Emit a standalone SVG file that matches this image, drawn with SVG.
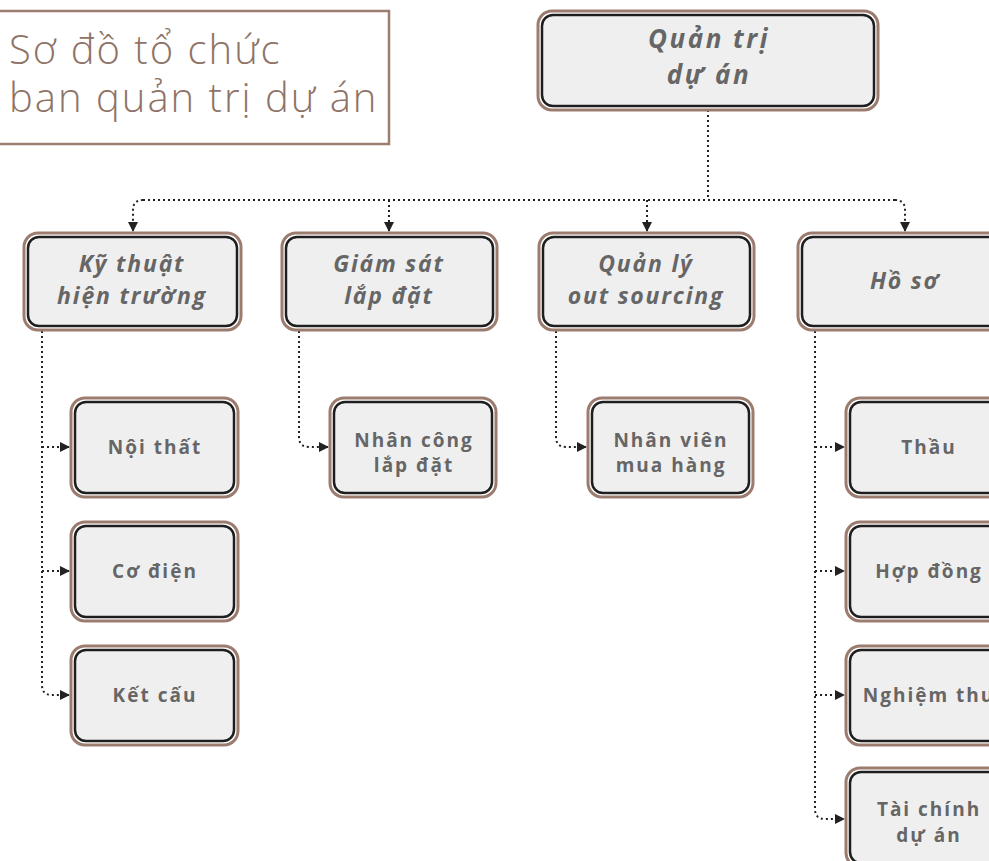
<svg xmlns="http://www.w3.org/2000/svg" width="989" height="861" viewBox="0 0 989 861">
<defs>
<marker id="arr" viewBox="0 0 10 10" refX="9" refY="5" markerWidth="10" markerHeight="10" markerUnits="userSpaceOnUse" orient="auto">
<path d="M0,0 L10,5 L0,10 z" fill="#222"/>
</marker>
</defs>
<style>
.outer{fill:#ffffff;stroke:#9b7c6f;stroke-width:3}
.inner{fill:#efefef;stroke:#1e1e1e;stroke-width:2.5}
.root{font-family:"Open Sans","Noto Sans",sans-serif;font-weight:700;font-style:italic;font-size:26px;fill:#666666;text-anchor:middle;letter-spacing:2.5px}
.big{font-family:"Open Sans","Noto Sans",sans-serif;font-weight:700;font-style:italic;font-size:23px;fill:#666666;text-anchor:middle;letter-spacing:1.8px}
.small{font-family:"Open Sans","Noto Sans",sans-serif;font-weight:700;font-size:19px;fill:#666666;text-anchor:middle;letter-spacing:2px}
.title{font-family:"Open Sans","Noto Sans",sans-serif;font-weight:300;font-size:40px;fill:#8e7366;letter-spacing:2px}
.conn{fill:none;stroke:#222;stroke-width:2;stroke-dasharray:2 3}
</style>
<rect width="989" height="861" fill="#ffffff"/>
<g id="title">
<rect x="-10" y="11" width="399" height="133" fill="none" stroke="#9b7c6f" stroke-width="2.5"/>
<text class="title" x="9" y="64">Sơ đồ tổ chức</text>
<text class="title" x="9" y="112">ban quản trị dự án</text>
</g>
<g id="connectors">
<path class="conn" d="M708,110 V200"/>
<path class="conn" d="M143,200 H895"/>
<path class="conn" d="M143,200 Q133,200 133,210 V231" marker-end="url(#arr)"/>
<path class="conn" d="M389,200 V231" marker-end="url(#arr)"/>
<path class="conn" d="M647,200 V231" marker-end="url(#arr)"/>
<path class="conn" d="M895,200 Q905,200 905,210 V231" marker-end="url(#arr)"/>
<path class="conn" d="M42,331 V685 Q42,695 52,695 H69" marker-end="url(#arr)"/>
<path class="conn" d="M42,447 H69" marker-end="url(#arr)"/>
<path class="conn" d="M42,571 H69" marker-end="url(#arr)"/>
<path class="conn" d="M299,331 V437 Q299,447 309,447 H328" marker-end="url(#arr)"/>
<path class="conn" d="M556,331 V437 Q556,447 566,447 H586" marker-end="url(#arr)"/>
<path class="conn" d="M815,331 V809 Q815,819 825,819 H844" marker-end="url(#arr)"/>
<path class="conn" d="M815,447 H844" marker-end="url(#arr)"/>
<path class="conn" d="M815,571 H844" marker-end="url(#arr)"/>
<path class="conn" d="M815,695 H844" marker-end="url(#arr)"/>
</g>
<g id="n-root">
<rect class="outer" x="538" y="11" width="340" height="99" rx="14"/>
<rect class="inner" x="542" y="15" width="332" height="91" rx="11"/>
<text class="root" x="709" y="48">Quản trị</text>
<text class="root" x="709" y="84">dự án</text>
</g>
<g id="n-kythuat">
<rect class="outer" x="24" y="233" width="217" height="97" rx="14"/>
<rect class="inner" x="28" y="237" width="209" height="89" rx="11"/>
<text class="big" x="132" y="272">Kỹ thuật</text>
<text class="big" x="132" y="304">hiện trường</text>
</g>
<g id="n-giamsat">
<rect class="outer" x="282" y="233" width="215" height="97" rx="14"/>
<rect class="inner" x="286" y="237" width="207" height="89" rx="11"/>
<text class="big" x="389" y="272">Giám sát</text>
<text class="big" x="389" y="304">lắp đặt</text>
</g>
<g id="n-quanly">
<rect class="outer" x="539" y="233" width="215" height="97" rx="14"/>
<rect class="inner" x="543" y="237" width="207" height="89" rx="11"/>
<text class="big" x="646" y="272">Quản lý</text>
<text class="big" x="646" y="304">out sourcing</text>
</g>
<g id="n-hoso">
<rect class="outer" x="798" y="233" width="215" height="97" rx="14"/>
<rect class="inner" x="802" y="237" width="207" height="89" rx="11"/>
<text class="big" x="905" y="289">Hồ sơ</text>
</g>
<g id="n-noithat">
<rect class="outer" x="71" y="398" width="167" height="99" rx="14"/>
<rect class="inner" x="75" y="402" width="159" height="91" rx="11"/>
<text class="small" x="155" y="454">Nội thất</text>
</g>
<g id="n-codien">
<rect class="outer" x="71" y="522" width="167" height="99" rx="14"/>
<rect class="inner" x="75" y="526" width="159" height="91" rx="11"/>
<text class="small" x="155" y="578">Cơ điện</text>
</g>
<g id="n-ketcau">
<rect class="outer" x="71" y="646" width="167" height="99" rx="14"/>
<rect class="inner" x="75" y="650" width="159" height="91" rx="11"/>
<text class="small" x="155" y="702">Kết cấu</text>
</g>
<g id="n-nhancong">
<rect class="outer" x="330" y="398" width="166" height="99" rx="14"/>
<rect class="inner" x="334" y="402" width="158" height="91" rx="11"/>
<text class="small" x="414" y="447">Nhân công</text>
<text class="small" x="414" y="472">lắp đặt</text>
</g>
<g id="n-nhanvien">
<rect class="outer" x="588" y="398" width="165" height="99" rx="14"/>
<rect class="inner" x="592" y="402" width="157" height="91" rx="11"/>
<text class="small" x="671" y="447">Nhân viên</text>
<text class="small" x="671" y="472">mua hàng</text>
</g>
<g id="n-thau">
<rect class="outer" x="846" y="398" width="167" height="99" rx="14"/>
<rect class="inner" x="850" y="402" width="159" height="91" rx="11"/>
<text class="small" x="929" y="454">Thầu</text>
</g>
<g id="n-hopdong">
<rect class="outer" x="846" y="522" width="167" height="99" rx="14"/>
<rect class="inner" x="850" y="526" width="159" height="91" rx="11"/>
<text class="small" x="929" y="578">Hợp đồng</text>
</g>
<g id="n-nghiemthu">
<rect class="outer" x="846" y="646" width="167" height="99" rx="14"/>
<rect class="inner" x="850" y="650" width="159" height="91" rx="11"/>
<text class="small" x="929" y="702">Nghiệm thu</text>
</g>
<g id="n-taichinh">
<rect class="outer" x="846" y="768" width="167" height="99" rx="14"/>
<rect class="inner" x="850" y="772" width="159" height="91" rx="11"/>
<text class="small" x="929" y="816">Tài chính</text>
<text class="small" x="929" y="842">dự án</text>
</g>
</svg>
